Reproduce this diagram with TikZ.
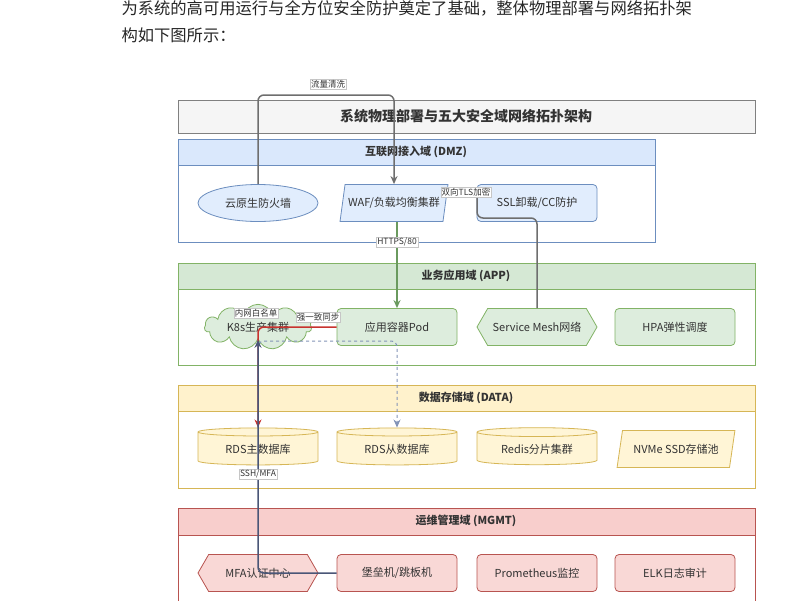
\documentclass[tikz,border=0pt]{standalone}
\usepackage{fontspec}
\setmainfont{Noto Sans CJK SC}
\usetikzlibrary{shapes.geometric, shapes.symbols, arrows.meta, calc}
\definecolor{dmzfill}{HTML}{DAE8FC}
\definecolor{dmzline}{HTML}{6C8EBF}
\definecolor{appfill}{HTML}{D5E8D4}
\definecolor{appline}{HTML}{82B366}
\definecolor{datfill}{HTML}{FFF2CC}
\definecolor{datline}{HTML}{D6B656}
\definecolor{mgtfill}{HTML}{F8CECC}
\definecolor{mgtline}{HTML}{B85450}
\definecolor{txtgray}{HTML}{333333}
\definecolor{edgegray}{HTML}{6E6E6E}
\definecolor{httpgreen}{HTML}{6A9A5E}
\definecolor{syncred}{HTML}{C8332F}
\definecolor{repblue}{HTML}{8394B8}
\definecolor{opsdark}{HTML}{4A5677}

\begin{document}
\begin{tikzpicture}
                [x=1pt, y=-1pt,
                every node/.style={text=txtgray, font=\fontsize{11}{13}\selectfont},
                hsty/.style={font=\fontsize{11}{13}\selectfont\bfseries},
                zsty/.style={draw=#1line, fill=white, line width=0.8pt},
                bsty/.style={draw=#1line, fill=#1fill!80, line width=0.8pt, minimum width=120pt, minimum height=37pt, inner sep=1pt},
                rsty/.style={bsty=#1, rounded corners=4pt},
                esty/.style={bsty=#1, ellipse},
                psty/.style={bsty=#1, trapezium, trapezium left angle=70, trapezium right angle=110, trapezium stretches=true},
                hxsty/.style={bsty=#1, signal, signal to=west and east, signal pointer angle=120},
                csty/.style={bsty=#1, cylinder, shape border rotate=90, aspect=0.12},
                clsty/.style={bsty=#1, cloud, cloud puffs=11, aspect=3.4, minimum width=107pt, minimum height=31pt},
                lsty/.style={fill=white, draw=gray!45, inner sep=1pt, font=\fontsize{8.5}{10}\selectfont},
                asty/.style={line width=1.5pt, rounded corners=6pt, -{Stealth[length=8pt, width=7pt]}}]
                \useasboundingbox (0,0) rectangle (800,600);
                \clip (0,0) rectangle (800,600);
                % text above
                \node[anchor=west, font=\fontsize{16.3}{18}\selectfont, text=black!85] (p1) at (118,8) {为系统的高可用运行与全方位安全防护奠定了基础，整体物理部署与网络拓扑架};
                \node[anchor=west, font=\fontsize{16.3}{18}\selectfont, text=black!85] (p2) at (118,35) {构如下图所示：};
                % domains
                \draw[draw=gray, fill=gray!8, line width=0.8pt] (178,100) rectangle (755,133);
                \node[font=\fontsize{14}{16}\selectfont\bfseries] (title) at (466,116) {系统物理部署与五大安全域网络拓扑架构};
                \draw[zsty=dmz] (178,139) rectangle (655,242);
                \draw[zsty=dmz, fill=dmzfill] (178,139) rectangle (655,165);
                \node[hsty] (dmzh) at (416,152) {互联网接入域 (DMZ)};
                \draw[zsty=app] (178,263) rectangle (755,365);
                \draw[zsty=app, fill=appfill] (178,263) rectangle (755,289);
                \node[hsty] (apph) at (466,276) {业务应用域 (APP)};
                \draw[zsty=dat] (178,385) rectangle (755,488);
                \draw[zsty=dat, fill=datfill] (178,385) rectangle (755,411);
                \node[hsty] (dath) at (466,398) {数据存储域 (DATA)};
                \draw[zsty=mgt] (178,508) rectangle (755,620);
                \draw[zsty=mgt, fill=mgtfill] (178,508) rectangle (755,535);
                \node[hsty] (mgth) at (466,521) {运维管理域 (MGMT)};
                % nodes
                \node[esty=dmz] (fw) at (258,203) {云原生防火墙};
                \node[psty=dmz, minimum width=108pt] (waf) at (394,203) {WAF/负载均衡集群};
                \node[rsty=dmz] (ssl) at (537,203) {SSL卸载/CC防护};
                \node[clsty=app] (k8s) at (258,327) {K8s生产集群};
                \node[rsty=app] (pod) at (397,327) {应用容器Pod};
                \node[hxsty=app] (mesh) at (537,327) {Service Mesh网络};
                \node[rsty=app] (hpa) at (675,327) {HPA弹性调度};
                \node[csty=dat] (rdsm) at (258,449) {RDS主数据库};
                \node[csty=dat] (rdss) at (397,449) {RDS从数据库};
                \node[csty=dat] (redis) at (537,449) {Redis分片集群};
                \node[psty=dat, minimum width=118pt] (nvme) at (676,449) {NVMe SSD存储池};
                \node[hxsty=mgt] (mfa) at (258,573) {MFA认证中心};
                \node[rsty=mgt] (bast) at (397,573) {堡垒机/跳板机};
                \node[rsty=mgt] (prom) at (537,573) {Prometheus监控};
                \node[rsty=mgt] (elk) at (675,573) {ELK日志审计};
                % edges
                \coordinate (top) at (0,95);
                \coordinate (tls1) at (477,188);
                \coordinate (tls2) at (477,218);
                \coordinate (rep) at (258,341);
                \draw[asty, draw=edgegray] (fw.north) -- (fw.north |- top) -| (waf.north);
                \draw[line width=1.5pt, rounded corners=6pt, draw=edgegray] (waf.east |- tls1) -- (tls1) -- (tls2) -| (mesh.north);
                \draw[asty, draw=httpgreen] (pod.north |- waf.south) -- (pod.north);
                \draw[asty, draw=syncred] (pod.west) -| (rdsm.north);
                \draw[asty, dashed, line width=1pt, draw=repblue] (rdsm.north) -- (rep) -| (rdss.north);
                \draw[asty, draw=opsdark] (bast.west) -| (k8s.south);
                % labels
                \node[lsty] (l1) at (328,84) {流量清洗};
                \node[lsty] (l2) at (466,192) {双向TLS加密};
                \node[lsty] (l3) at (397,242) {HTTPS/80};
                \node[lsty] (l4) at (256,313) {内网白名单};
                \node[lsty] (l5) at (318,317) {强一致同步};
                \node[lsty] (l6) at (258,474) {SSH/MFA};
            \end{tikzpicture}
\end{document}
